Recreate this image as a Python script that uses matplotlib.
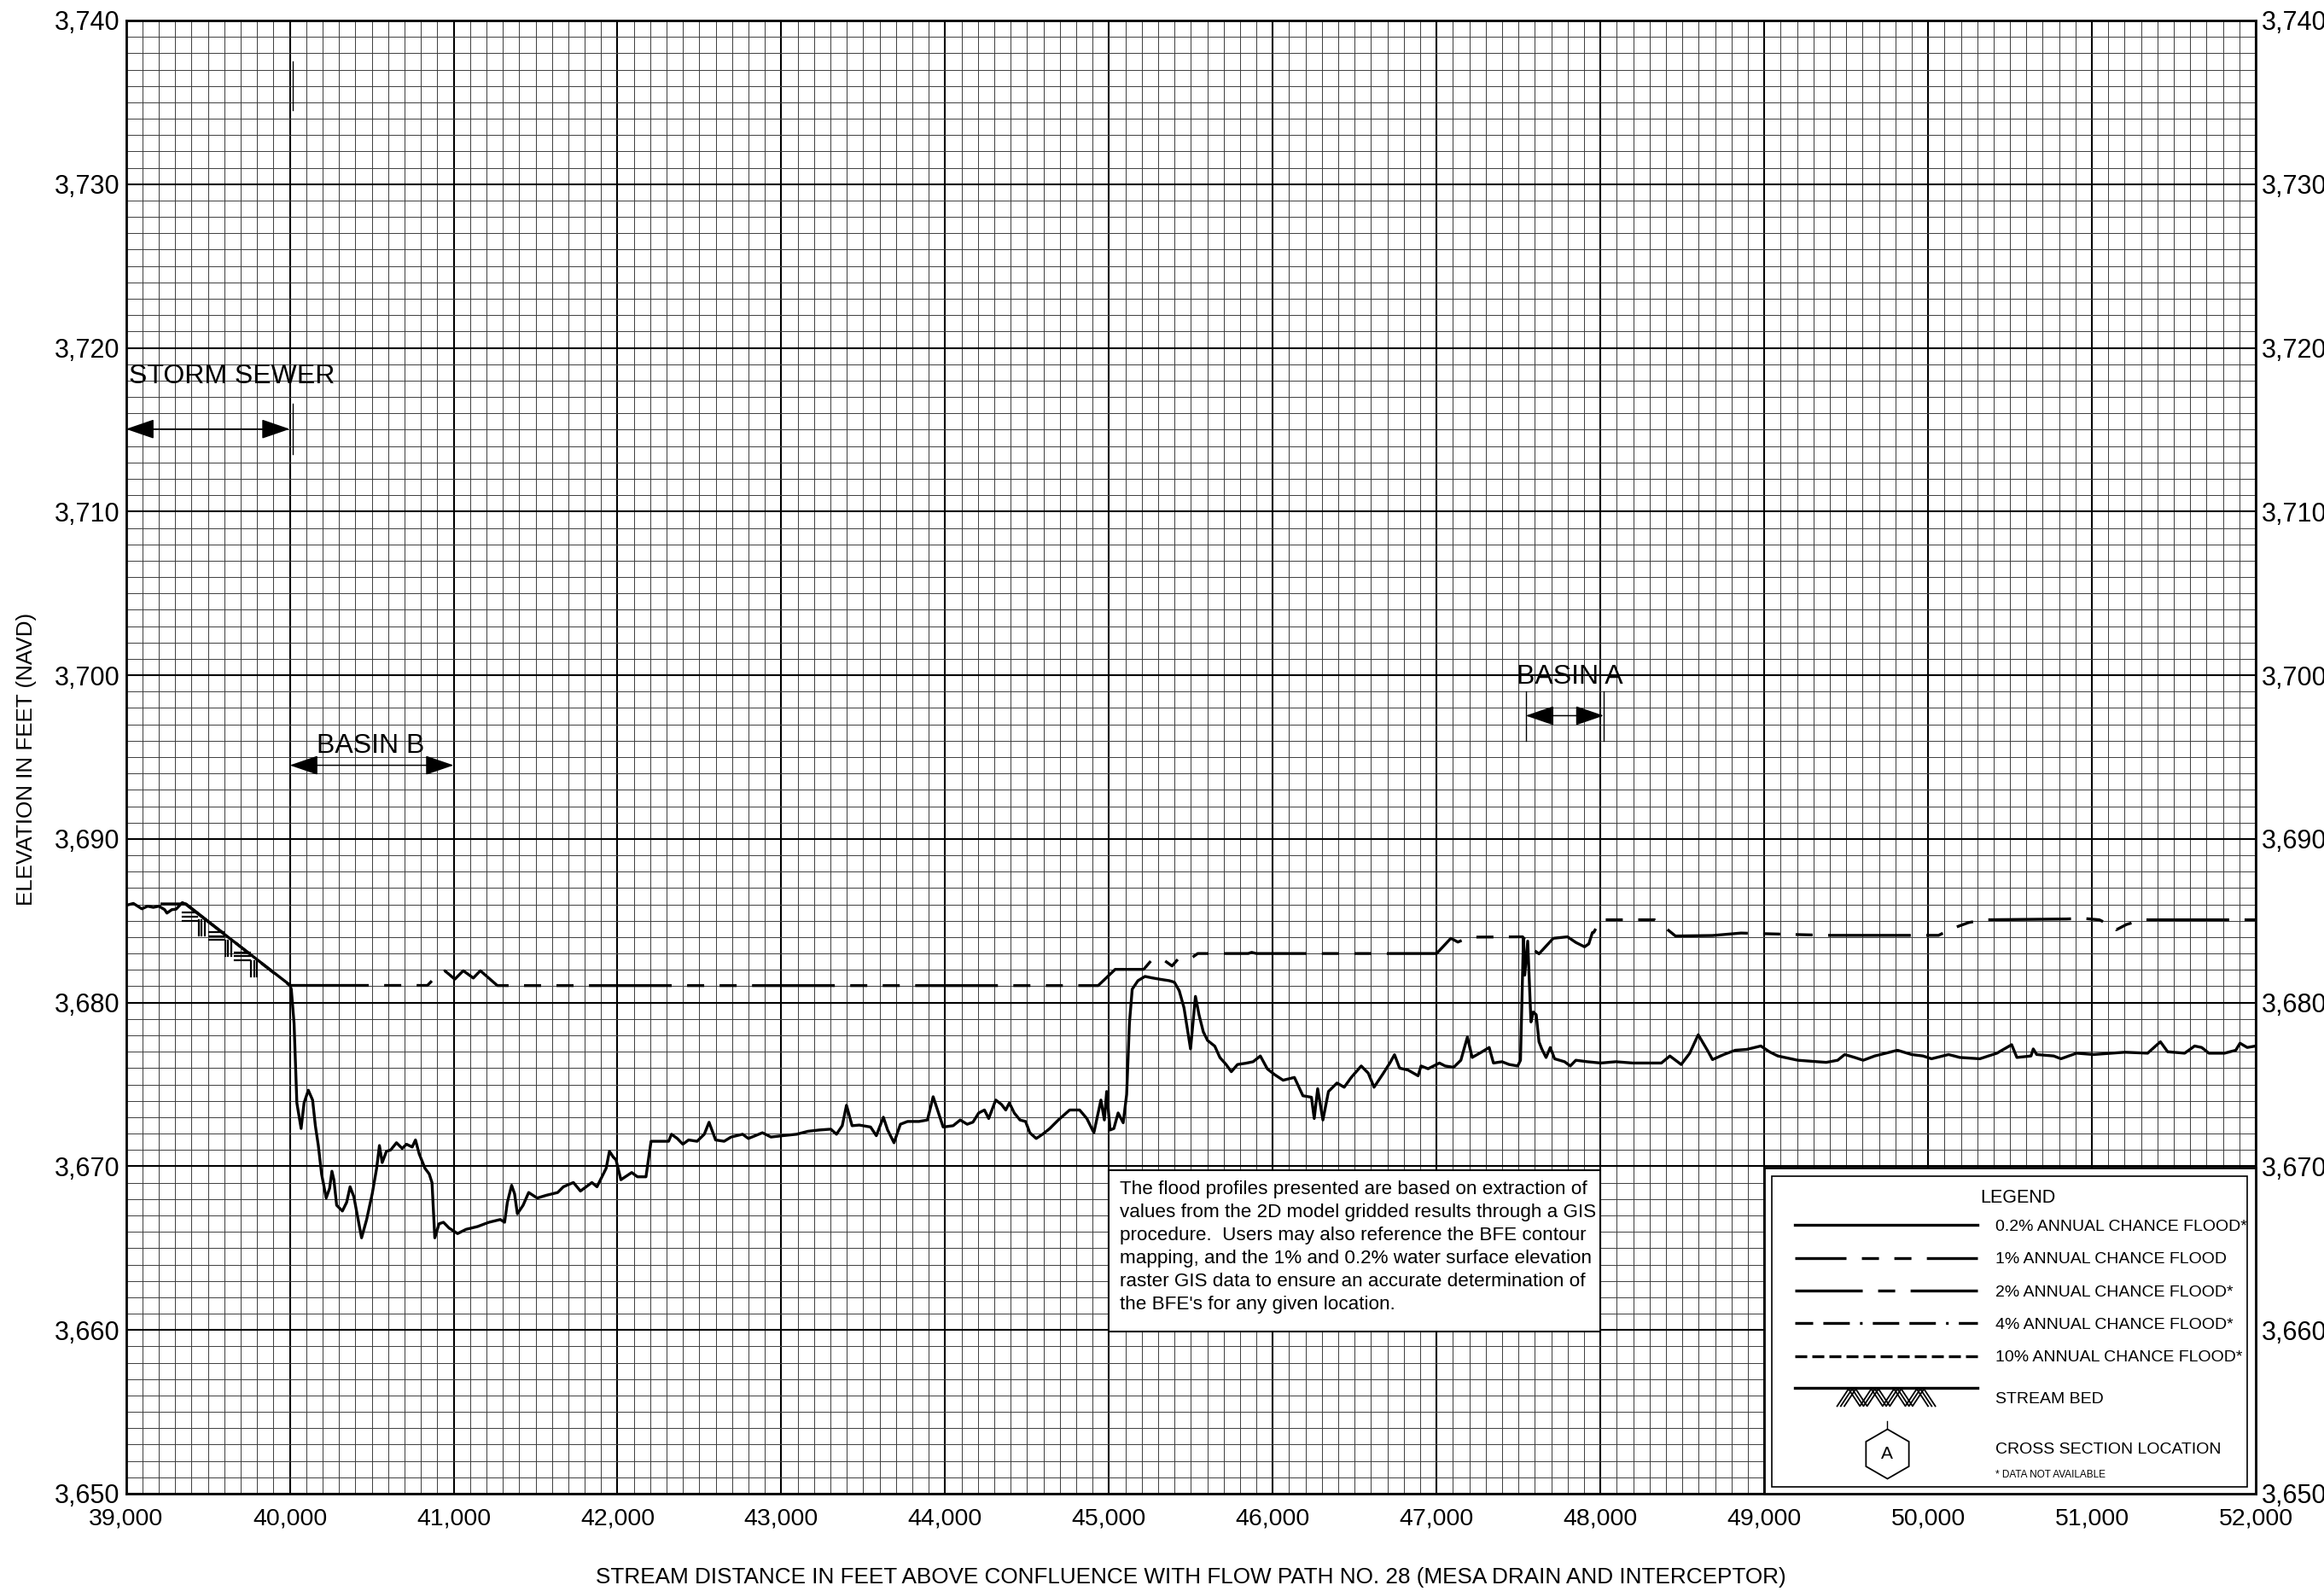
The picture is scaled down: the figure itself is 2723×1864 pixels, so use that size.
import numpy as np
import matplotlib
matplotlib.use("Agg")
import matplotlib.pyplot as plt
from matplotlib.patches import Rectangle
from matplotlib.ticker import MultipleLocator, StrMethodFormatter

plt.rcParams['font.family'] = ['Liberation Sans', 'DejaVu Sans']
plt.rcParams['lines.scale_dashes'] = False

# stream bed profile: distance (ft) / elevation (ft NAVD)
bed_x = [39000, 39045, 39097, 39132, 39167, 39201, 39236, 39250, 39280, 39306,
         39344, 39366, 40000, 40009, 40026, 40043, 40069, 40087, 40113, 40139,
         40156, 40174, 40194, 40222, 40243, 40257, 40269, 40286, 40321, 40347,
         40368, 40391, 40417, 40438, 40469, 40503, 40530, 40547, 40564, 40590,
         40616, 40651, 40686, 40712, 40747, 40767, 40790, 40825, 40851, 40868,
         40885, 40911, 40938, 40972, 41024, 41076, 41146, 41215, 41285, 41311,
         41328, 41354, 41372, 41389, 41424, 41458, 41510, 41566, 41635, 41670,
         41731, 41774, 41844, 41875, 41905, 41931, 41951, 41974, 41991, 42021,
         42087, 42122, 42174, 42205, 42312, 42330, 42365, 42399, 42434, 42486,
         42530, 42559, 42599, 42651, 42694, 42764, 42799, 42885, 42937, 43007,
         43094, 43163, 43233, 43302, 43337, 43372, 43398, 43432, 43476, 43545,
         43580, 43623, 43649, 43688, 43727, 43771, 43840, 43892, 43927, 43962,
         43988, 44049, 44092, 44135, 44170, 44205, 44240, 44266, 44309, 44344,
         44370, 44392, 44422, 44457, 44491, 44517, 44556, 44595, 44639, 44691,
         44760, 44821, 44865, 44908, 44951, 44972, 44986, 45007, 45030, 45056,
         45087, 45108, 45125, 45142, 45177, 45220, 45264, 45316, 45368, 45399,
         45429, 45458, 45498, 45528, 45550, 45576, 45602, 45646, 45677, 45715,
         45747, 45785, 45837, 45880, 45924, 45967, 46010, 46063, 46132, 46184,
         46236, 46253, 46274, 46306, 46340, 46392, 46436, 46479, 46540, 46583,
         46618, 46670, 46714, 46743, 46774, 46826, 46887, 46905, 46948, 47017,
         47052, 47104, 47148, 47188, 47217, 47278, 47321, 47347, 47399, 47443,
         47495, 47512, 47530, 47538, 47556, 47576, 47590, 47608, 47625, 47642,
         47668, 47694, 47720, 47781, 47816, 47850, 47920, 48002, 48094, 48198,
         48267, 48372, 48424, 48493, 48545, 48597, 48658, 48684, 48753, 48823,
         48892, 48979, 49031, 49083, 49205, 49326, 49378, 49448, 49491, 49552,
         49604, 49674, 49813, 49899, 49969, 50021, 50125, 50194, 50316, 50420,
         50510, 50542, 50628, 50642, 50663, 50767, 50811, 50906, 51010, 51115,
         51201, 51340, 51418, 51462, 51566, 51627, 51670, 51714, 51809, 51878,
         51904, 51948, 52000]
bed_y = [3685.94, 3686.06, 3685.73, 3685.89, 3685.82, 3685.89, 3685.68, 3685.47, 3685.68, 3685.71,
         3686.11, 3686.00, 3681.08, 3680.82, 3678.73, 3673.87, 3672.31, 3673.87, 3674.65, 3674.05,
         3672.48, 3671.27, 3669.53, 3668.06, 3668.66, 3669.70, 3669.18, 3667.62, 3667.27, 3667.80,
         3668.75, 3668.14, 3666.75, 3665.63, 3666.75, 3668.32, 3669.88, 3671.27, 3670.23, 3670.92,
         3671.00, 3671.44, 3671.09, 3671.35, 3671.18, 3671.61, 3670.75, 3669.88, 3669.53, 3669.00,
         3665.63, 3666.49, 3666.58, 3666.23, 3665.89, 3666.15, 3666.32, 3666.58, 3666.75, 3666.58,
         3667.80, 3668.84, 3668.32, 3667.10, 3667.62, 3668.40, 3668.06, 3668.23, 3668.40, 3668.75,
         3669.01, 3668.49, 3669.01, 3668.75, 3669.36, 3669.88, 3670.92, 3670.57, 3670.40, 3669.18,
         3669.62, 3669.36, 3669.36, 3671.53, 3671.53, 3671.96, 3671.70, 3671.35, 3671.61, 3671.53,
         3671.96, 3672.69, 3671.61, 3671.53, 3671.79, 3671.96, 3671.70, 3672.05, 3671.79, 3671.87,
         3671.96, 3672.14, 3672.22, 3672.27, 3671.96, 3672.48, 3673.73, 3672.48, 3672.52, 3672.40,
         3671.87, 3673.00, 3672.22, 3671.44, 3672.57, 3672.74, 3672.74, 3672.83, 3674.25, 3673.18,
         3672.40, 3672.48, 3672.83, 3672.57, 3672.70, 3673.26, 3673.44, 3672.92, 3674.05, 3673.78,
         3673.44, 3673.87, 3673.26, 3672.83, 3672.74, 3672.05, 3671.70, 3671.96, 3672.31, 3672.83,
         3673.44, 3673.44, 3672.92, 3672.05, 3674.05, 3672.83, 3674.57, 3672.22, 3672.31, 3673.26,
         3672.66, 3674.39, 3678.73, 3680.82, 3681.34, 3681.60, 3681.51, 3681.42, 3681.34, 3681.25,
         3680.73, 3679.69, 3677.17, 3680.38, 3679.25, 3678.21, 3677.69, 3677.34, 3676.65, 3676.22,
         3675.78, 3676.22, 3676.30, 3676.39, 3676.74, 3675.95, 3675.61, 3675.26, 3675.43, 3674.31,
         3674.22, 3672.92, 3674.74, 3672.83, 3674.57, 3675.09, 3674.83, 3675.43, 3676.13, 3675.69,
         3674.83, 3675.61, 3676.30, 3676.82, 3676.00, 3675.88, 3675.53, 3676.13, 3675.96, 3676.31,
         3676.13, 3676.05, 3676.48, 3677.90, 3676.65, 3677.00, 3677.26, 3676.31, 3676.39, 3676.22,
         3676.13, 3676.48, 3683.93, 3681.68, 3683.76, 3678.82, 3679.43, 3679.26, 3677.61, 3677.17,
         3676.65, 3677.26, 3676.57, 3676.39, 3676.13, 3676.48, 3676.39, 3676.31, 3676.39, 3676.31,
         3676.31, 3676.31, 3676.74, 3676.22, 3676.91, 3678.04, 3677.00, 3676.52, 3676.83, 3677.09,
         3677.14, 3677.35, 3677.00, 3676.74, 3676.48, 3676.39, 3676.35, 3676.48, 3676.83, 3676.65,
         3676.48, 3676.74, 3677.09, 3676.83, 3676.74, 3676.57, 3676.83, 3676.65, 3676.57, 3676.91,
         3677.43, 3676.65, 3676.74, 3677.17, 3676.83, 3676.74, 3676.57, 3676.91, 3676.83, 3676.91,
         3676.97, 3676.91, 3677.61, 3677.00, 3676.91, 3677.35, 3677.26, 3676.91, 3676.91, 3677.09,
         3677.52, 3677.26, 3677.35]

# 1% annual chance water surface
wse_x = [39210, 39366, 40000, 40840, 40877, 40946, 41007, 41059, 41120, 41163,
         41267, 44934, 45038, 45212, 45264, 45342, 45385, 45420, 45498, 45542,
         45850, 45871, 45900, 47000, 47087, 47130, 47200, 47525, 47590, 47625,
         47712, 47799, 47851, 47903, 47929, 47951, 47960, 48000, 48330, 48389,
         48458, 48684, 48858, 49378, 50003, 50064, 50151, 50247, 50342, 50845,
         50941, 51045, 51132, 51149, 51210, 51306, 52000]
wse_y = [3686.03, 3686.03, 3681.05, 3681.05, 3681.43, 3681.95, 3681.43, 3681.95, 3681.50, 3681.95,
         3681.04, 3681.04, 3682.03, 3682.03, 3682.64, 3682.55, 3682.24, 3682.64, 3682.69, 3683.00,
         3683.00, 3683.07, 3683.00, 3683.00, 3683.93, 3683.70, 3684.00, 3684.02, 3683.24, 3682.98,
         3683.93, 3684.02, 3683.67, 3683.41, 3683.59, 3684.28, 3684.30, 3685.06, 3685.06, 3684.63,
         3684.07, 3684.10, 3684.25, 3684.11, 3684.11, 3684.11, 3684.54, 3684.89, 3685.06, 3685.11,
         3685.15, 3685.06, 3684.63, 3684.45, 3684.77, 3685.06, 3685.06]

# streambed symbol anchors along the sloping reach
hatch_x = [39345, 39505, 39665]

note_lines = [
    "The flood profiles presented are based on extraction of",
    "values from the 2D model gridded results through a GIS",
    "procedure.  Users may also reference the BFE contour",
    "mapping, and the 1% and 0.2% water surface elevation",
    "raster GIS data to ensure an accurate determination of",
    "the BFE's for any given location.",
]

legend_labels = [
    "0.2% ANNUAL CHANCE FLOOD*",
    "1% ANNUAL CHANCE FLOOD",
    "2% ANNUAL CHANCE FLOOD*",
    "4% ANNUAL CHANCE FLOOD*",
    "10% ANNUAL CHANCE FLOOD*",
]

# dash patterns in points (1 px = 0.72 pt at 100 dpi)
ONE_PCT = [69.8, 13.0, 14.4, 13.0, 14.4, 13.0]
TWO_PCT = [113.8, 13.0, 14.4, 13.0]
FOUR_PCT = [22.3, 8.6, 22.3, 8.6, 2.2, 8.6]
TEN_PCT = [10.1, 4.3]

LW = 2.4


def span_arrow(ax, x0, x1, y):
    ax.annotate('', xy=(x0, y), xytext=(x1, y),
                arrowprops=dict(arrowstyle='<|-|>,head_length=2.1,head_width=0.72',
                                mutation_scale=10, color='k', lw=1.1,
                                shrinkA=0, shrinkB=0),
                annotation_clip=False, zorder=4)


def dash_offset(ax, fig, xs, ys, x_at, pattern):
    # phase the pattern so that a long dash begins at x_at
    pts = ax.transData.transform(np.column_stack([xs, ys]))
    seg = np.hypot(*np.diff(pts, axis=0).T)
    cum = np.concatenate([[0.0], np.cumsum(seg)])
    s_pt = np.interp(x_at, xs, cum) * 72.0 / fig.dpi
    return (-s_pt) % sum(pattern)


fig = plt.figure(figsize=(27.23, 18.64), dpi=100)
ax = fig.add_axes([0.05421, 0.06116, 0.91642, 0.92597])
ax.set_xlim(39000, 52000)
ax.set_ylim(3650, 3740)

ax.xaxis.set_major_locator(MultipleLocator(1000))
ax.xaxis.set_minor_locator(MultipleLocator(100))
ax.yaxis.set_major_locator(MultipleLocator(10))
ax.yaxis.set_minor_locator(MultipleLocator(1))
ax.xaxis.set_major_formatter(StrMethodFormatter('{x:,.0f}'))
ax.yaxis.set_major_formatter(StrMethodFormatter('{x:,.0f}'))
ax.set_axisbelow(True)
ax.grid(which='minor', color='#3c3c3c', lw=0.7)
ax.grid(which='major', color='k', lw=1.5)
ax.tick_params(which='both', length=0)
ax.tick_params(axis='y', labelsize=22, labelright=True, pad=5)
ax.tick_params(axis='x', labelsize=20.5, pad=12)
for sp in ax.spines.values():
    sp.set_linewidth(2.0)

# profiles
ax.plot(bed_x, bed_y, color='k', lw=LW, zorder=3, solid_joinstyle='round')
off = dash_offset(ax, fig, wse_x, wse_y, 41826, ONE_PCT)
ax.plot(wse_x, wse_y, color='k', lw=LW, zorder=3, linestyle=(off, ONE_PCT))

# streambed hatching under the sloped reach
for xa in hatch_x:
    y0 = np.interp(xa, bed_x, bed_y)
    for d in (0.6, 0.85, 1.1):
        ax.plot([xa, xa + 90], [y0 - d, y0 - d], color='k', lw=1.6, zorder=3)
    yv = np.interp(xa + 100, bed_x, bed_y)
    for k in range(3):
        xv = xa + 100 + 18 * k
        ax.plot([xv, xv], [yv - 0.35, yv - 1.3], color='k', lw=1.6, zorder=3)

# reach annotations
span_arrow(ax, 39000, 40000, 3715.04)
ax.text(39018, 3718.25, "STORM SEWER", fontsize=23, ha='left', va='center', zorder=4)
ax.plot([40019, 40019], [3713.5, 3716.6], color='k', lw=1.0, zorder=4)
ax.plot([40018, 40018], [3734.5, 3737.5], color='k', lw=1.0, zorder=4)

span_arrow(ax, 40000, 41000, 3694.5)
ax.text(40493, 3695.67, "BASIN B", fontsize=23, ha='center', va='center', zorder=4)

span_arrow(ax, 47544, 48020, 3697.53)
ax.text(47815, 3699.92, "BASIN A", fontsize=23, ha='center', va='center', zorder=4)
for xb in (47544, 48020):
    ax.plot([xb, xb], [3696.0, 3699.0], color='k', lw=1.0, zorder=4)

# note box
ax.add_patch(Rectangle((45000, 3659.9), 3000, 9.85, facecolor='white',
                       edgecolor='k', lw=1.5, zorder=5))
ax.text(45064, 3669.15, "\n".join(note_lines), fontsize=16.2, ha='left', va='top',
        linespacing=1.38, zorder=6)

# legend panel
ax.add_patch(Rectangle((49000, 3650), 3000, 19.9, facecolor='white',
                       edgecolor='k', lw=2.0, zorder=5, clip_on=False))
ax.add_patch(Rectangle((49047, 3650.4), 2901, 19.0, fill=False,
                       edgecolor='k', lw=1.2, zorder=6))
ax.text(50548, 3668.09, "LEGEND", fontsize=15.5, ha='center', va='center', zorder=7)

lx0, lx1, tx = 49188, 50304, 50413
row_y = [3666.42, 3664.39, 3662.39, 3660.41, 3658.41]
row_styles = ['-', (26.6, ONE_PCT), (56.9, TWO_PCT), (7.2, FOUR_PCT), (0, TEN_PCT)]
for yy, ls, lab in zip(row_y, row_styles, legend_labels):
    ax.plot([lx0, lx1], [yy, yy], color='k', lw=LW, linestyle=ls, zorder=7)
    ax.text(tx, yy - 0.1, lab, fontsize=14, ha='left', va='center', zorder=7)

# stream bed symbol
ax.plot([lx0, lx1], [3656.47, 3656.47], color='k', lw=LW, zorder=7)
zx = np.linspace(49445, 50000, 9)
zy = np.where(np.arange(9) % 2 == 0, 3655.35, 3656.4)
for k in range(3):
    ax.plot(zx + 22 * k, zy, color='k', lw=1.3, zorder=7)
ax.text(tx, 3655.74, "STREAM BED", fontsize=14, ha='left', va='center', zorder=7)

# cross section symbol
ax.plot([49750, 49750], [3653.91, 3654.43], color='k', lw=1.0, zorder=7)
ax.plot(49750, 3652.43, marker='h', ms=41.8, mfc='white', mec='k', mew=1.3, zorder=7)
ax.text(49750, 3652.43, "A", fontsize=15, ha='center', va='center', zorder=8)
ax.text(tx, 3652.68, "CROSS SECTION LOCATION", fontsize=14, ha='left', va='center', zorder=7)
ax.text(tx, 3651.15, "* DATA NOT AVAILABLE", fontsize=8.5, ha='left', va='center', zorder=7)

# axis titles
fig.text(31 / 2723, 1 - 889 / 1864, "ELEVATION IN FEET (NAVD)", fontsize=18.7,
         rotation=90, ha='center', va='center')
fig.text(1395 / 2723, 1 - 1848 / 1864,
         "STREAM DISTANCE IN FEET ABOVE CONFLUENCE WITH FLOW PATH NO. 28 (MESA DRAIN AND INTERCEPTOR)",
         fontsize=18.8, ha='center', va='center')

fig.savefig("out.png", dpi=100)
